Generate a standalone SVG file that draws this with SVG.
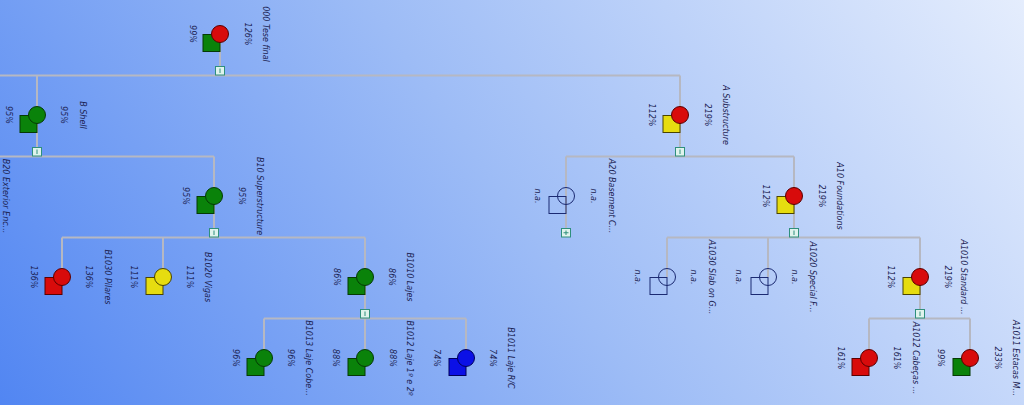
<svg xmlns="http://www.w3.org/2000/svg" width="1024" height="405" viewBox="0 0 1024 405">
<defs>
<linearGradient id="bg" gradientUnits="userSpaceOnUse" x1="60" y1="520" x2="960" y2="-110">
<stop offset="0" stop-color="#4f84f2"/>
<stop offset="0.5" stop-color="#9dbcf6"/>
<stop offset="1" stop-color="#e6eefd"/>
</linearGradient>
</defs>
<style>
.ln{stroke:#b6b8c2;stroke-width:2;fill:none}
text{font-family:"DejaVu Sans",sans-serif;font-size:8px;font-style:italic;fill:#1b2352;text-anchor:middle;dominant-baseline:central}
.bx{fill:#dff3ec;stroke:#2f8f7c;stroke-width:1}
.bi{stroke:#2f8f7c;stroke-width:1}
.gs{fill:#0a820a;stroke:#053a05}
.gc{fill:#0a820a;stroke:#053a05}
.rs{fill:#d80b0b;stroke:#5a0000}
.rc{fill:#d80b0b;stroke:#5a0000}
.ys{fill:#e6dc10;stroke:#4a4400}
.yc{fill:#e6dc10;stroke:#4a4400}
.bs{fill:#0b10e6;stroke:#00005a}
.bc{fill:#0b10e6;stroke:#00005a}
.ns{fill:none;stroke:#1b2a72}
.nc{fill:none;stroke:#1b2a72}
</style>
<rect width="1024" height="405" fill="url(#bg)"/>
<g id="connectors">
<path class="ln" d="M0 75.5H680M37 75.5V115M680 75.5V115M220 34V66"/>
<path class="ln" d="M0 156.5H214M566 156.5H794M214 156.5V196M566 156.5V196M794 156.5V196M37 115V147M680 115V147"/>
<path class="ln" d="M62 237.5H365M667 237.5H920M62 237.5V277M163 237.5V277M365 237.5V277M667 237.5V277M768 237.5V277M920 237.5V277M214 196V228M566 196V228M794 196V228"/>
<path class="ln" d="M264 318.5H466M869 318.5H970M264 318.5V358M365 318.5V358M466 318.5V358M869 318.5V358M970 318.5V358M365 277V309M920 277V309"/>
</g>
<g id="n000" transform="translate(220,34)">
<rect class="gs" x="-17" y="0.5" width="17" height="17"/><circle class="rc" r="8.5"/>
<rect class="bx" x="-4.5" y="32.5" width="9" height="8.5"/><path class="bi" d="M0 34.5V39"/>
<text transform="translate(-28,0) rotate(90)">99%</text>
<text transform="translate(27,0) rotate(90)">126%</text>
<text transform="translate(45,0) rotate(90)">000 Tese final</text>
</g>
<g id="nB" transform="translate(37,115)">
<rect class="gs" x="-17" y="0.5" width="17" height="17"/><circle class="gc" r="8.5"/>
<rect class="bx" x="-4.5" y="32.5" width="9" height="8.5"/><path class="bi" d="M0 34.5V39"/>
<text transform="translate(-29,0) rotate(90)">95%</text>
<text transform="translate(26.5,0) rotate(90)">95%</text>
<text transform="translate(45,0) rotate(90)">B Shell</text>
</g>
<g id="nA" transform="translate(680,115)">
<rect class="ys" x="-17" y="0.5" width="17" height="17"/><circle class="rc" r="8.5"/>
<rect class="bx" x="-4.5" y="32.5" width="9" height="8.5"/><path class="bi" d="M0 34.5V39"/>
<text transform="translate(-29,0) rotate(90)">112%</text>
<text transform="translate(27,0) rotate(90)">219%</text>
<text transform="translate(45,0) rotate(90)">A Substructure</text>
</g>
<g id="nB20" transform="translate(-40,196)">
<text transform="translate(45,0) rotate(90)">B20 Exterior Enc...</text>
</g>
<g id="nB10" transform="translate(214,196)">
<rect class="gs" x="-17" y="0.5" width="17" height="17"/><circle class="gc" r="8.5"/>
<rect class="bx" x="-4.5" y="32.5" width="9" height="8.5"/><path class="bi" d="M0 34.5V39"/>
<text transform="translate(-29,0) rotate(90)">95%</text>
<text transform="translate(27,0) rotate(90)">95%</text>
<text transform="translate(45,0) rotate(90)">B10 Superstructure</text>
</g>
<g id="nA20" transform="translate(566,196)">
<circle class="nc" r="8.5"/><rect class="ns" x="-17" y="0.5" width="17" height="17"/>
<rect class="bx" x="-4.5" y="32.5" width="9" height="8.5"/><path class="bi" d="M0 34.5V39M-2.5 36.75H2.5"/>
<text transform="translate(-29,0) rotate(90)">n.a.</text>
<text transform="translate(27,0) rotate(90)">n.a.</text>
<text transform="translate(45,0) rotate(90)">A20 Basement C...</text>
</g>
<g id="nA10" transform="translate(794,196)">
<rect class="ys" x="-17" y="0.5" width="17" height="17"/><circle class="rc" r="8.5"/>
<rect class="bx" x="-4.5" y="32.5" width="9" height="8.5"/><path class="bi" d="M0 34.5V39"/>
<text transform="translate(-29,0) rotate(90)">112%</text>
<text transform="translate(27,0) rotate(90)">219%</text>
<text transform="translate(45,0) rotate(90)">A10 Foundations</text>
</g>
<g id="nB1030" transform="translate(62,277)">
<rect class="rs" x="-17" y="0.5" width="17" height="17"/><circle class="rc" r="8.5"/>
<text transform="translate(-29,0) rotate(90)">136%</text>
<text transform="translate(26.5,0) rotate(90)">136%</text>
<text transform="translate(45,0) rotate(90)">B1030 Pilares</text>
</g>
<g id="nB1020" transform="translate(163,277)">
<rect class="ys" x="-17" y="0.5" width="17" height="17"/><circle class="yc" r="8.5"/>
<text transform="translate(-29.5,0) rotate(90)">111%</text>
<text transform="translate(26.5,0) rotate(90)">111%</text>
<text transform="translate(44.5,0) rotate(90)">B1020 Vigas</text>
</g>
<g id="nB1010" transform="translate(365,277)">
<rect class="gs" x="-17" y="0.5" width="17" height="17"/><circle class="gc" r="8.5"/>
<rect class="bx" x="-4.5" y="32.5" width="9" height="8.5"/><path class="bi" d="M0 34.5V39"/>
<text transform="translate(-29,0) rotate(90)">86%</text>
<text transform="translate(26.5,0) rotate(90)">86%</text>
<text transform="translate(44,0) rotate(90)">B1010 Lajes</text>
</g>
<g id="nA1030" transform="translate(667,277)">
<circle class="nc" r="8.5"/><rect class="ns" x="-17" y="0.5" width="17" height="17"/>
<text transform="translate(-29.5,0) rotate(90)">n.a.</text>
<text transform="translate(26,0) rotate(90)">n.a.</text>
<text transform="translate(44,0) rotate(90)">A1030 Slab on G...</text>
</g>
<g id="nA1020" transform="translate(768,277)">
<circle class="nc" r="8.5"/><rect class="ns" x="-17" y="0.5" width="17" height="17"/>
<text transform="translate(-29.5,0) rotate(90)">n.a.</text>
<text transform="translate(26,0) rotate(90)">n.a.</text>
<text transform="translate(44,0) rotate(90)">A1020 Special F...</text>
</g>
<g id="nA1010" transform="translate(920,277)">
<rect class="ys" x="-17" y="0.5" width="17" height="17"/><circle class="rc" r="8.5"/>
<rect class="bx" x="-4.5" y="32.5" width="9" height="8.5"/><path class="bi" d="M0 34.5V39"/>
<text transform="translate(-29.5,0) rotate(90)">112%</text>
<text transform="translate(27,0) rotate(90)">219%</text>
<text transform="translate(43.5,0) rotate(90)">A1010 Standard ...</text>
</g>
<g id="nB1013" transform="translate(264,358)">
<rect class="gs" x="-17" y="0.5" width="17" height="17"/><circle class="gc" r="8.5"/>
<text transform="translate(-29,0) rotate(90)">96%</text>
<text transform="translate(26.5,0) rotate(90)">96%</text>
<text transform="translate(44.5,0) rotate(90)">B1013 Laje Cobe...</text>
</g>
<g id="nB1012" transform="translate(365,358)">
<rect class="gs" x="-17" y="0.5" width="17" height="17"/><circle class="gc" r="8.5"/>
<text transform="translate(-29.5,0) rotate(90)">88%</text>
<text transform="translate(27,0) rotate(90)">88%</text>
<text transform="translate(44.5,0) rotate(90)">B1012 Laje 1º e 2º</text>
</g>
<g id="nB1011" transform="translate(466,358)">
<rect class="bs" x="-17" y="0.5" width="17" height="17"/><circle class="bc" r="8.5"/>
<text transform="translate(-30,0) rotate(90)">74%</text>
<text transform="translate(26.5,0) rotate(90)">74%</text>
<text transform="translate(44.5,0) rotate(90)">B1011 Laje R/C</text>
</g>
<g id="nA1012" transform="translate(869,358)">
<rect class="rs" x="-17" y="0.5" width="17" height="17"/><circle class="rc" r="8.5"/>
<text transform="translate(-29,0) rotate(90)">161%</text>
<text transform="translate(27,0) rotate(90)">161%</text>
<text transform="translate(46,0) rotate(90)">A1012 Cabeças ...</text>
</g>
<g id="nA1011" transform="translate(970,358)">
<rect class="gs" x="-17" y="0.5" width="17" height="17"/><circle class="rc" r="8.5"/>
<text transform="translate(-29.5,0) rotate(90)">99%</text>
<text transform="translate(27,0) rotate(90)">233%</text>
<text transform="translate(45,0) rotate(90)">A1011 Estacas M...</text>
</g>
</svg>
